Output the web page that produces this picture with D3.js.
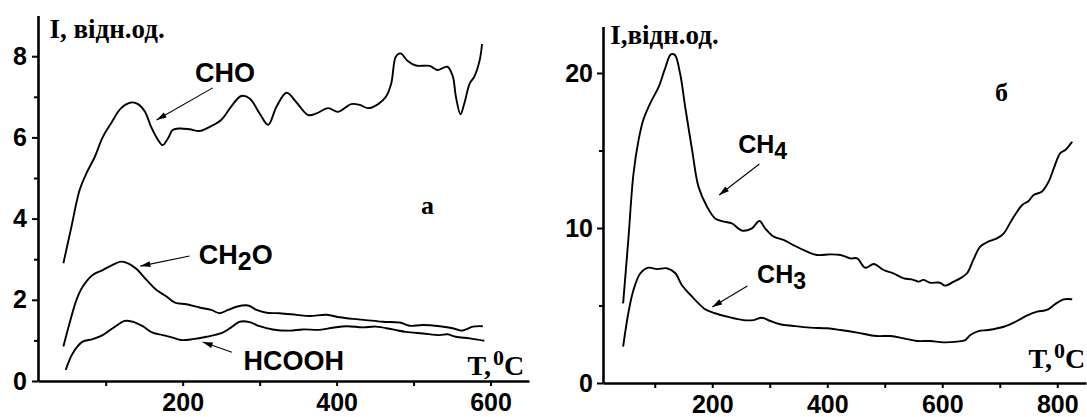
<!DOCTYPE html>
<html>
<head>
<meta charset="utf-8">
<script src="https://cdn.jsdelivr.net/npm/d3@7"></script>
<style>
  body { margin: 0; background: #fff; }
  svg { display: block; }
  .tick text { font-family: "Liberation Sans", Arial, sans-serif; font-weight: bold; font-size: 25px; fill: #000; }
  .serif { font-family: "Liberation Serif", "Times New Roman", serif; font-weight: bold; fill: #000; }
  .sans { font-family: "Liberation Sans", Arial, sans-serif; font-weight: bold; fill: #000; }
</style>
</head>
<body>
<div id="chart"></div>
<script>
// panel (а): T, 0C -> I, rel. units
var cho = [[45, 2.9], [55, 3.76], [66, 4.70], [75, 5.12], [86, 5.53], [96, 6.0], [107, 6.35], [120, 6.72], [133, 6.86], [142, 6.82], [151, 6.63], [159, 6.26], [168, 5.94], [174, 5.81], [181, 5.98], [187, 6.18], [196, 6.22], [209, 6.20], [222, 6.16], [235, 6.26], [250, 6.43], [263, 6.76], [276, 7.02], [287, 6.96], [300, 6.59], [311, 6.31], [322, 6.76], [335, 7.10], [348, 6.86], [363, 6.55], [374, 6.59], [389, 6.72], [402, 6.63], [419, 6.82], [430, 6.80], [441, 6.72], [454, 6.82], [464, 7.0], [471, 7.33], [477, 7.99], [483, 8.07], [492, 7.89], [503, 7.77], [521, 7.76], [531, 7.66], [544, 7.74], [551, 7.50], [555, 7.0], [561, 6.57], [566, 6.84], [573, 7.33], [579, 7.50], [586, 7.91], [589, 8.30]]
var ch2o = [[45, 0.85], [53, 1.42], [62, 2.0], [70, 2.32], [83, 2.61], [96, 2.73], [109, 2.86], [120, 2.94], [129, 2.90], [140, 2.76], [153, 2.49], [166, 2.24], [179, 2.08], [190, 1.93], [205, 1.89], [222, 1.81], [237, 1.75], [248, 1.67], [259, 1.75], [270, 1.83], [285, 1.86], [296, 1.75], [309, 1.68], [326, 1.67], [348, 1.63], [365, 1.60], [387, 1.63], [404, 1.57], [421, 1.53], [438, 1.50], [460, 1.46], [482, 1.44], [495, 1.36], [512, 1.38], [534, 1.35], [551, 1.30], [562, 1.24], [568, 1.27], [577, 1.34], [590, 1.35]]
var hcooh = [[48, 0.27], [57, 0.68], [70, 0.97], [83, 1.03], [96, 1.13], [109, 1.30], [125, 1.48], [135, 1.46], [148, 1.35], [161, 1.19], [174, 1.13], [187, 1.07], [198, 1.01], [213, 1.03], [231, 1.09], [252, 1.19], [263, 1.32], [274, 1.46], [287, 1.45], [300, 1.35], [317, 1.27], [339, 1.24], [356, 1.27], [378, 1.26], [395, 1.31], [413, 1.35], [434, 1.32], [451, 1.34], [473, 1.27], [490, 1.21], [512, 1.17], [534, 1.13], [544, 1.15], [555, 1.09], [573, 1.05], [592, 0.99]]

// panel (б)
var ch4 = [[45, 5.14], [54, 9.23], [63, 13.5], [72, 15.7], [80, 16.97], [92, 18.04], [107, 19.12], [118, 20.3], [128, 21.2], [135, 21.16], [144, 19.98], [153, 17.8], [165, 15.03], [176, 12.67], [191, 11.37], [205, 10.62], [220, 10.41], [234, 10.30], [252, 9.83], [269, 9.98], [282, 10.45], [292, 9.98], [307, 9.44], [324, 9.23], [341, 8.9], [359, 8.58], [382, 8.26], [405, 8.30], [423, 8.26], [440, 8.04], [452, 8.04], [466, 7.44], [481, 7.68], [498, 7.29], [515, 7.08], [533, 6.75], [547, 6.69], [559, 6.54], [567, 6.65], [579, 6.47], [596, 6.47], [605, 6.28], [620, 6.54], [631, 6.75], [643, 7.08], [654, 7.94], [666, 8.80], [680, 9.12], [695, 9.33], [707, 9.66], [721, 10.52], [739, 11.48], [750, 11.74], [759, 12.13], [773, 12.34], [785, 12.99], [794, 13.85], [805, 14.82], [814, 15.03], [826, 15.57]]
var ch3 = [[45, 2.34], [54, 4.5], [63, 6.0], [75, 7.08], [89, 7.44], [104, 7.35], [121, 7.40], [136, 7.08], [147, 6.32], [162, 5.68], [173, 5.25], [188, 4.75], [205, 4.50], [226, 4.28], [254, 4.06], [272, 4.06], [286, 4.21], [301, 4.0], [318, 3.79], [341, 3.68], [370, 3.57], [400, 3.53], [423, 3.42], [452, 3.25], [486, 3.03], [510, 3.03], [533, 2.88], [556, 2.71], [579, 2.71], [602, 2.62], [626, 2.67], [640, 2.77], [649, 3.10], [663, 3.35], [680, 3.42], [707, 3.63], [730, 4.0], [747, 4.34], [765, 4.60], [782, 4.71], [796, 5.08], [811, 5.40], [826, 5.40]]

// ticks
var xTicksA = [100, 200, 300, 400, 500, 600]
var yTicksA = [0, 1, 2, 3, 4, 5, 6, 7, 8]
var xTicksB = [100, 200, 300, 400, 500, 600, 700, 800]
var yTicksB = [0, 5, 10, 15, 20]

// curve labels and arrows, in data units: [label, textT, textI, tailT, tailI, headT, headI, sub, after]
var notesA = [["CH", 216, 7.36, 239, 7.22, 166, 6.43, "O", ""],
              ["CH", 221, 2.88, 209, 3.08, 145, 2.83, "2", "O"],
              ["HCOOH", 279, 0.27, 264, 0.71, 226, 0.96, "", ""]]
var notesB = [["CH", 245, 14.84, 282, 14.13, 212, 12.13, "4", ""],
              ["CH", 278, 6.45, 261, 6.26, 200, 4.90, "3", ""]]

var width = 1087, height = 417

var svg = d3.select("#chart").append("svg")
    .attr("width", width)
    .attr("height", height)

svg.append("defs").append("marker")
    .attr("id", "head")
    .attr("markerUnits", "userSpaceOnUse")
    .attr("viewBox", "0 0 10 6")
    .attr("refX", 10).attr("refY", 3)
    .attr("markerWidth", 11).attr("markerHeight", 6)
    .attr("orient", "auto")
  .append("path")
    .attr("d", "M0,0L10,3L0,6Z")
    .attr("fill", "#000")

function panel(opt) {
  var x = d3.scaleLinear().domain(opt.xDomain).range(opt.xRange)
  var y = d3.scaleLinear().domain(opt.yDomain).range(opt.yRange)
  var g = svg.append("g")

  var xAxis = g.append("g")
      .attr("transform", "translate(0," + opt.yRange[0] + ")")
      .call(d3.axisBottom(x).tickValues(opt.xTicks).tickSize(5).tickPadding(7).tickSizeOuter(0)
        .tickFormat(function(d) { return d % 200 == 0 ? d : "" }))
  var yAxis = g.append("g")
      .attr("transform", "translate(" + opt.xRange[0] + ",0)")
      .call(d3.axisLeft(y).tickValues(opt.yTicks).tickSize(5).tickPadding(opt.yPad).tickSizeOuter(0)
        .tickFormat(function(d) { return opt.yMajor.indexOf(d) >= 0 ? d : "" }))
  g.selectAll(".domain").attr("stroke-width", 2.6).attr("stroke", "#000")
  g.selectAll(".tick line").attr("stroke-width", 2).attr("stroke", "#000")
  yAxis.selectAll(".tick line").attr("x2", function(d) { return opt.yMajor.indexOf(d) >= 0 ? -6 : -4 })

  var line = d3.line()
      .x(function(d) { return x(d[0]) })
      .y(function(d) { return y(d[1]) })
      .curve(d3.curveCatmullRom.alpha(0.5))

  opt.series.forEach(function(s) {
    g.append("path")
      .datum(s)
      .attr("d", line)
      .attr("fill", "none")
      .attr("stroke", "#000")
      .attr("stroke-width", 1.9)
  })

  opt.notes.forEach(function(n) {
    g.append("line")
      .attr("x1", x(n[3])).attr("y1", y(n[4]))
      .attr("x2", x(n[5])).attr("y2", y(n[6]))
      .attr("stroke", "#000").attr("stroke-width", 1.1)
      .attr("marker-end", "url(#head)")
    var t = g.append("text").attr("class", "sans")
      .attr("x", x(n[1])).attr("y", y(n[2]))
      .style("font-size", opt.noteSize + "px")
      .text(n[0])
    if (n[7] == "O") {
      t.append("tspan").text("O")
    } else if (n[7] != "") {
      t.append("tspan").attr("dy", 6).style("font-size", (opt.noteSize - 2) + "px").text(n[7])
      if (n[8] != "") t.append("tspan").attr("dy", -6).text(n[8])
    }
  })

  // axis titles and panel letter
  g.append("text").attr("class", "serif")
    .attr("x", x(opt.yTitle[1])).attr("y", y(opt.yTitle[2]))
    .style("font-size", "27px")
    .text(opt.yTitle[0])
  var tt = g.append("text").attr("class", "serif")
    .attr("x", x(opt.xTitle[0])).attr("y", y(opt.xTitle[1]))
    .style("font-size", "28px")
  tt.append("tspan").text("T,")
  tt.append("tspan").attr("dx", 2).attr("dy", -10).style("font-size", "22px").text("0")
  tt.append("tspan").attr("dy", 10).text("C")
  g.append("text").attr("class", "serif")
    .attr("x", x(opt.letter[1])).attr("y", y(opt.letter[2]))
    .attr("text-anchor", "middle")
    .style("font-size", "26px")
    .text(opt.letter[0])
}

panel({
  xDomain: [12, 650], xRange: [38, 529],
  yDomain: [0, 9], yRange: [381, 15.6],
  xTicks: xTicksA, yTicks: yTicksA, yMajor: [0, 2, 4, 6, 8], yPad: 6,
  series: [cho, ch2o, hcooh], notes: notesA, noteSize: 27,
  yTitle: ["I, відн.од.", 27, 8.45], xTitle: [570, 0.15], letter: ["а", 518, 4.11]
})

panel({
  xDomain: [10, 850], xRange: [603, 1086],
  yDomain: [0, 23], yRange: [383, 26.5],
  xTicks: xTicksB, yTicks: yTicksB, yMajor: [0, 10, 20], yPad: 5,
  series: [ch4, ch3], notes: notesB, noteSize: 25,
  yTitle: ["I,відн.од.", 22.6, 21.9], xTitle: [750, 0.97], letter: ["б", 703, 18.19]
})
</script>
</body>
</html>
